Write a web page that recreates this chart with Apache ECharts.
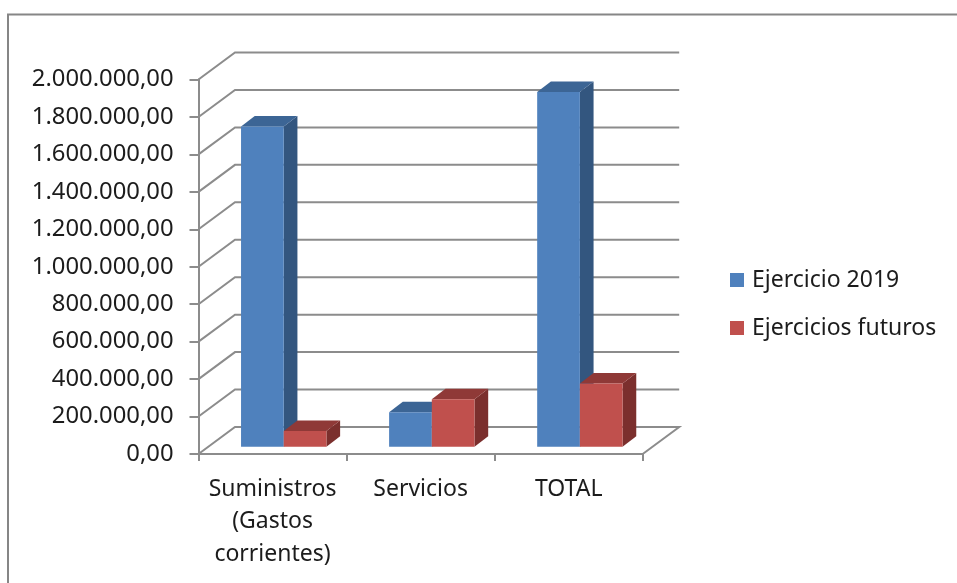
<!DOCTYPE html>
<html>
<head>
<meta charset="utf-8">
<style>html,body{margin:0;padding:0;background:#fff}#c{width:957px;height:583px}</style>
<script src="https://cdn.jsdelivr.net/npm/echarts@6/dist/echarts.min.js"></script>
</head>
<body>
<div id="c"></div>
<script>
const categories = ['Suministros\n(Gastos\ncorrientes)', 'Servicios', 'TOTAL'];
const ejercicio2019 = [1710000, 184000, 1894000];
const ejerciciosFuturos = [84000, 253000, 337000];
const yTicks = [0, 200000, 400000, 600000, 800000, 1000000, 1200000, 1400000, 1600000, 1800000, 2000000];

const FONT = 'Noto Sans';
const WALL = {dx: 36.5, dy: 27, color: '#8c8c8c', width: 2};
const BAR = {frac: 42.7 / 148.1, shiftX: 11.2, liftY: 7.3, dx: 13.7, dy: 10.5};
const BLUE = {front: '#4F81BD', side: '#33567F', top: '#3C6595'};
const RED = {front: '#C0504D', side: '#7B2F2D', top: '#8F3937'};

function fmt(v) {
  return String(v).replace(/\B(?=(\d{3})+$)/g, '.') + ',00';
}

function wallItem(params, api) {
  const cs = params.coordSys;
  const y = api.coord([0, api.value(0)])[1];
  const x0 = cs.x, x1 = cs.x + cs.width;
  const pts = [[x0, y], [x0 + WALL.dx, y - WALL.dy], [x1 + WALL.dx, y - WALL.dy]];
  if (api.value(0) === 0) pts.push([x1, y]);
  return {
    type: 'polyline',
    shape: {points: pts},
    style: {fill: null, stroke: WALL.color, lineWidth: WALL.width}
  };
}

function barItem(slot, pal) {
  return function (params, api) {
    const i = api.value(0);
    const top = api.coord([i, api.value(1)]);
    const base = api.coord([i, 0]);
    const w = api.size([1, 0])[0] * BAR.frac;
    const xl = top[0] + BAR.shiftX + slot * w;
    const xr = xl + w;
    const yt = top[1] - BAR.liftY;
    const yb = base[1] - BAR.liftY;
    const poly = (points, fill) => ({type: 'polygon', shape: {points}, style: {fill}});
    return {
      type: 'group',
      children: [
        poly([[xr, yt], [xr + BAR.dx, yt - BAR.dy], [xr + BAR.dx, yb - BAR.dy], [xr, yb]], pal.side),
        poly([[xl, yt], [xl + BAR.dx, yt - BAR.dy], [xr + BAR.dx, yt - BAR.dy], [xr, yt]], pal.top),
        poly([[xl, yt], [xr, yt], [xr, yb], [xl, yb]], pal.front)
      ]
    };
  };
}

const chart = echarts.init(document.getElementById('c'), null, {renderer: 'canvas'});
chart.setOption({
  animation: false,
  backgroundColor: '#ffffff',
  textStyle: {fontFamily: FONT},
  graphic: [{
    type: 'rect', z: 0, silent: true,
    shape: {x: 8, y: 14.5, width: 1000, height: 700},
    style: {fill: null, stroke: '#868686', lineWidth: 2}
  }],
  grid: {left: 198.5, top: 79.5, width: 444.2, height: 374.5, containLabel: false},
  xAxis: {
    type: 'category',
    data: categories,
    axisLine: {lineStyle: {color: WALL.color, width: 2}},
    axisTick: {show: true, length: 7, lineStyle: {color: WALL.color, width: 2}},
    axisLabel: {color: '#1c1c1c', fontFamily: FONT, fontSize: 23, lineHeight: 32.5, margin: 19, interval: 0},
    splitLine: {show: false}
  },
  yAxis: {
    type: 'value', min: 0, max: 2000000, interval: 200000,
    axisLine: {show: true, lineStyle: {color: WALL.color, width: 2}},
    axisTick: {show: true, length: 9, lineStyle: {color: WALL.color, width: 2}},
    axisLabel: {color: '#1c1c1c', fontFamily: FONT, fontSize: 23.8, margin: 25, padding: [3, 0, 0, 0], formatter: fmt},
    splitLine: {show: false}
  },
  legend: {
    orient: 'vertical', left: 730, top: 265, padding: 0, itemWidth: 14, itemHeight: 14, itemGap: 18,
    icon: 'rect',
    data: ['Ejercicio 2019', 'Ejercicios futuros'],
    textStyle: {color: '#1c1c1c', fontFamily: FONT, fontSize: 23, lineHeight: 30, padding: [0, 0, 0, 3]}
  },
  series: [
    {
      type: 'custom', name: 'walls', silent: true, z: 1,
      coordinateSystem: 'cartesian2d',
      renderItem: wallItem,
      encode: {y: 0},
      data: yTicks.map(v => [v])
    },
    {
      type: 'custom', name: 'Ejercicio 2019', z: 2,
      itemStyle: {color: BLUE.front},
      renderItem: barItem(-1, BLUE),
      encode: {x: 0, y: 1},
      data: ejercicio2019.map((v, i) => [i, v])
    },
    {
      type: 'custom', name: 'Ejercicios futuros', z: 3,
      itemStyle: {color: RED.front},
      renderItem: barItem(0, RED),
      encode: {x: 0, y: 1},
      data: ejerciciosFuturos.map((v, i) => [i, v])
    }
  ]
});
</script>
</body>
</html>
